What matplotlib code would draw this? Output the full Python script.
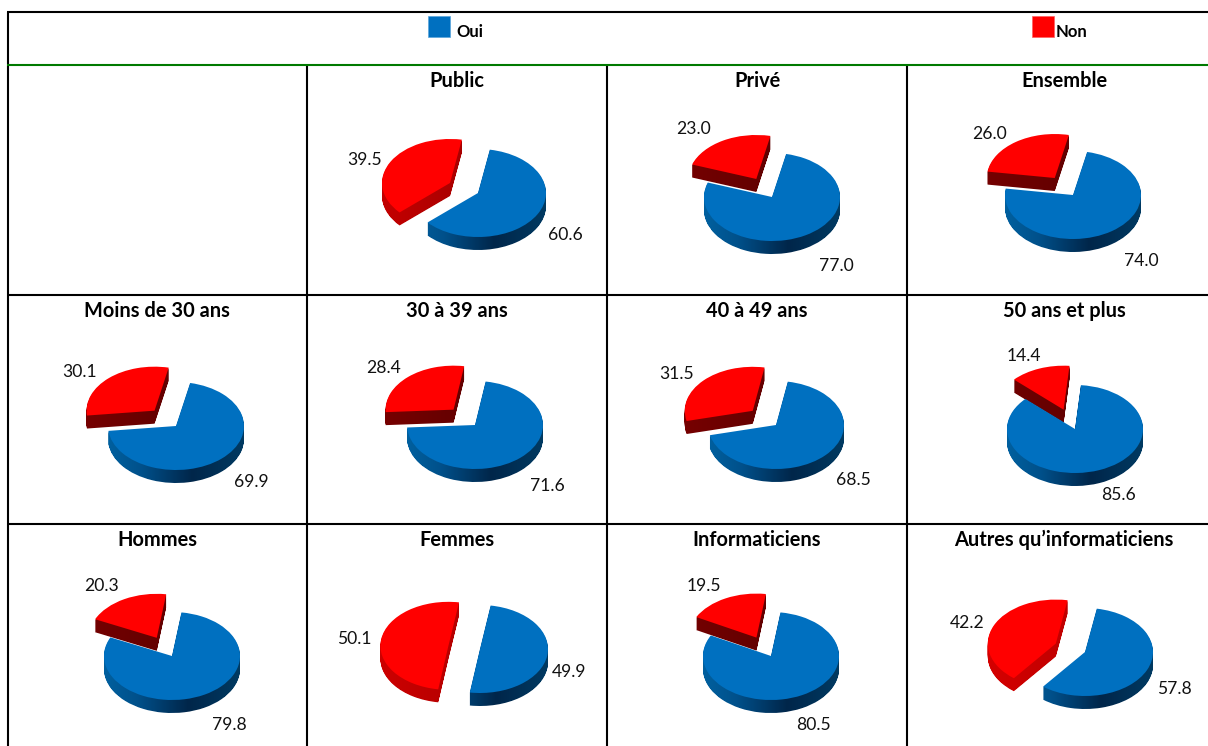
import numpy as np
import matplotlib
matplotlib.use("Agg")
import matplotlib.pyplot as plt
from matplotlib.path import Path
from matplotlib.transforms import IdentityTransform
from matplotlib.colors import LinearSegmentedColormap
from matplotlib.patches import Rectangle

plt.rcParams['font.family'] = ['Lato', 'DejaVu Sans']

W, H = 1208, 746
titles = ["Public", "Privé", "Ensemble",
          "Moins de 30 ans", "30 à 39 ans", "40 à 49 ans", "50 ans et plus",
          "Hommes", "Femmes", "Informaticiens", "Autres qu’informaticiens"]
oui = [60.6, 77.0, 74.0, 69.9, 71.6, 68.5, 85.6, 79.8, 49.9, 80.5, 57.8]
non = [39.5, 23.0, 26.0, 30.1, 28.4, 31.5, 14.4, 20.3, 50.1, 19.5, 42.2]
legend_labels = ["Oui", "Non"]

# layout (pixels), one entry per pie
title_xy = [(457, 81), (757, 81), (1064, 81),
            (157, 311), (457, 311), (757, 311), (1064, 311),
            (157, 540), (457, 540), (757, 540), (1064, 540)]
centers = [(478, 193), (772, 197), (1073, 195),
           (176, 426), (475, 425), (776, 425), (1075, 429),
           (172, 656), (480, 649), (771, 656), (1085, 652)]
start_cw = [10, 12, 12, 12, 9, 10, 5, 8, 9, 8, 10]
oui_lab = [(565, 235), (836, 266), (1141, 261), (251, 482), (547, 486), (853, 480),
           (1119, 495), (229, 725), (569, 672), (813, 725), (1174, 689)]
non_lab = [(365, 160), (694, 129), (990, 134), (80, 372), (384, 368), (677, 374),
           (1024, 356), (102, 586), (354, 639), (704, 586), (967, 623)]
red_side = [("#c80000", "#960000"), ("#7a0000", "#580000"), ("#7a0000", "#580000"),
            ("#7a0000", "#580000"), ("#7a0000", "#580000"), ("#7a0000", "#580000"),
            ("#7a0000", "#580000"), ("#7a0000", "#580000"), ("#d00000", "#a00000"),
            ("#7a0000", "#580000"), ("#d80000", "#b00000")]

RX, RY, DEPTH = 68, 44, 13
EXPLODE = 0.47
PAD = 1.7

fig = plt.figure(figsize=(W / 100, H / 100), dpi=100, facecolor="white")
bg = fig.add_axes([0, 0, 1, 1])
bg.set_xlim(0, W)
bg.set_ylim(H, 0)
bg.axis("off")

# table rules
for y in (12, 295, 523.5):
    bg.plot([7, W], [y, y], color="black", lw=1.5, solid_capstyle="butt")
bg.plot([7, W], [65, 65], color="#007a00", lw=1.5, solid_capstyle="butt", zorder=3)
bg.plot([7.5, 7.5], [12, H], color="black", lw=1.5, solid_capstyle="butt")
for x in (307, 607, 907):
    bg.plot([x, x], [65, H], color="black", lw=1.5, solid_capstyle="butt")

# legend
bg.add_patch(Rectangle((428, 16), 22, 21, fc="#0070C0", ec="#5aa5dc", lw=0.5))
bg.add_patch(Rectangle((1032, 16), 22, 21, fc="#FF0000", ec="#ff6060", lw=0.5))
bg.text(456, 32, legend_labels[0], fontsize=12, fontweight="bold", va="center", ha="left")
bg.text(1056, 32, legend_labels[1], fontsize=12, fontweight="bold", va="center", ha="left")

blue_cmap = LinearSegmentedColormap.from_list(
    "bl", [(0, "#00609f"), (0.25, "#00508a"), (0.62, "#00264a"), (1, "#003a62")])

for i, title in enumerate(titles):
    cx, cy = centers[i]
    ax = fig.add_axes([(cx - PAD * RX) / W, 1 - (cy + PAD * RY + 2 * DEPTH) / H,
                       2 * PAD * RX / W, (2 * PAD * RY + 2 * DEPTH) / H])
    ax.patch.set_alpha(0)
    d_units = DEPTH / RY
    layers = np.arange(DEPTH, 0, -1) / RY
    kw = dict(explode=[0, EXPLODE], startangle=90 - start_cw[i], counterclock=False,
              normalize=True, wedgeprops=dict(lw=0))
    vals = [oui[i], non[i]]
    side = [ax.pie(vals, center=(0, -d), colors=["#003a62", red_side[i][1]], **kw)[0]
            for d in layers]
    top, _ = ax.pie(vals, center=(0, 0), colors=["#0070C0", "#FF0000"], **kw)
    ax.set_aspect("auto")
    ax.set_xlim(-PAD, PAD)
    ax.set_ylim(-PAD - 2 * d_units, PAD)
    ax.set_xticks([])
    ax.set_yticks([])
    ax.axis("off")
    fig.canvas.draw()

    red_cmap = LinearSegmentedColormap.from_list("rd", list(red_side[i]))
    grad = np.linspace(0, 1, 256).reshape(1, -1)
    for k, cmap, ext in ((0, blue_cmap, (-1, 1)), (1, red_cmap, (-1.6, 0.6))):
        paths = [ws[k].get_transform().transform_path(ws[k].get_path()) for ws in side]
        clip = Path.make_compound_path(*paths)
        im = ax.imshow(grad, cmap=cmap, aspect="auto",
                       extent=(ext[0], ext[1], -PAD - 2 * d_units, PAD),
                       zorder=side[0][k].get_zorder() + 0.5, interpolation="bilinear")
        im.set_clip_path(clip, IdentityTransform())
        for ws in side:
            ws[k].set_visible(False)
    for w in top:
        w.set_zorder(5)
    ax.set_xlim(-PAD, PAD)
    ax.set_ylim(-PAD - 2 * d_units, PAD)

    bg.text(*title_xy[i], title, fontsize=14.4, fontweight="bold", ha="center", va="center", zorder=6)
    bg.text(*oui_lab[i], f"{oui[i]:.1f}", fontsize=12.6, ha="center", va="center", color="#111111", zorder=6)
    bg.text(*non_lab[i], f"{non[i]:.1f}", fontsize=12.6, ha="center", va="center", color="#111111", zorder=6)

fig.savefig("out.png", dpi=100)
